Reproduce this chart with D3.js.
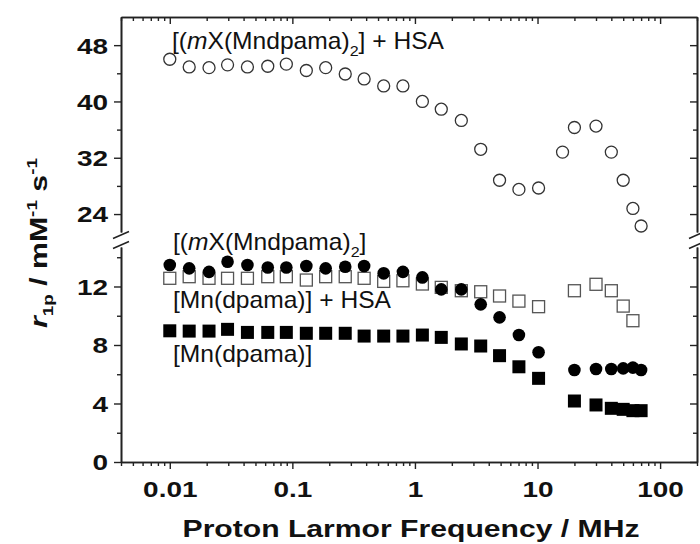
<!DOCTYPE html>
<html>
<head>
<meta charset="utf-8">
<script src="https://cdn.jsdelivr.net/npm/d3@7"></script>
<style>
  body { margin: 0; background: #fff; }
  svg { display: block; font-family: "Liberation Sans", Arial, sans-serif; }
</style>
</head>
<body>
<div id="chart"></div>
<script>
const width = 700;
const height = 544;

// Larmor frequencies (MHz)
const freqLow = [0.01, 0.0144, 0.0209, 0.0296, 0.0430, 0.0630, 0.0893, 0.130, 0.187, 0.270,
                 0.385, 0.556, 0.798, 1.15, 1.64, 2.39, 3.44, 4.90, 7.05, 10.2];
const freqHighA = [16, 20, 30, 40, 50, 60, 70];
const freqHighB = [20, 30, 40, 50, 60, 70];
const freqHighC = [20, 30, 40, 50, 60];

// relaxivities r1p (mM-1 s-1)
const dimerHSA = [46.0, 44.9, 44.8, 45.2, 44.9, 45.0, 45.3, 44.4, 44.8, 43.9, 43.2, 42.2, 42.2, 40.0,
                  38.9, 37.3, 33.2, 28.8, 27.5, 27.7, 32.8, 36.3, 36.5, 32.8, 28.8, 24.8, 22.3];
const dimer = [13.47, 13.24, 13.0, 13.69, 13.47, 13.3, 13.3, 13.4, 13.24, 13.35, 13.4, 12.9, 13.0,
               12.62, 11.8, 11.8, 10.78, 9.89, 8.68, 7.5, 6.29, 6.36, 6.36, 6.4, 6.45, 6.29];
const monoHSA = [12.56, 12.67, 12.56, 12.56, 12.56, 12.67, 12.67, 12.44, 12.67, 12.67, 12.56, 12.35,
                 12.39, 12.17, 11.94, 11.71, 11.64, 11.35, 11.0, 10.62, 11.71, 12.15, 11.71, 10.66, 9.66];
const mono = [8.97, 8.95, 8.95, 9.07, 8.86, 8.86, 8.86, 8.8, 8.8, 8.8, 8.61, 8.61, 8.61, 8.68,
              8.52, 8.07, 7.93, 7.27, 6.51, 5.72, 4.17, 3.9, 3.67, 3.6, 3.51, 3.51];

const xMajor = [0.01, 0.1, 1, 10, 100];
const xLabels = ['0.01', '0.1', '1', '10', '100'];
const yTopMajor = [24, 32, 40, 48];
const yTopMinor = [28, 36, 44];
const yBotMajor = [0, 4, 8, 12];
const yBotMinor = [2, 6, 10, 14];

const plotLeft = 121, plotRight = 697, plotTop = 17, plotBottom = 462;
const boldStretch = 1.27;
const textStretch = 1.07;
const axisColor = '#222';

const svg = d3.select('#chart')
  .append('svg')
  .attr('width', width)
  .attr('height', height);

const x = d3.scaleLog().domain([0.004, 200]).range([plotLeft, plotRight]);
const yTop = d3.scaleLinear().domain([21.45, 52]).range([232, plotTop]);
const yBot = d3.scaleLinear().domain([0, 14.7]).range([plotBottom, 247]);

const xMinor = x.ticks().filter(v => !xMajor.some(m => Math.abs(m - v) / m < 1e-6));

function styleAxis(g) {
  g.select('.domain').attr('stroke', axisColor).attr('stroke-width', 1.6);
  g.selectAll('.tick line').attr('stroke', axisColor).attr('stroke-width', 1.4);
}

// left axis (outward ticks, labels) and right mirror axis (inward)
[[yTop, yTopMajor, yTopMinor], [yBot, yBotMajor, yBotMinor]].forEach(([sc, major, minor]) => {
  svg.append('g')
     .attr('transform', `translate(${plotLeft},0)`)
     .call(d3.axisLeft(sc).tickValues(minor).tickSize(4).tickSizeOuter(0).tickFormat(''))
     .call(styleAxis);
  const g = svg.append('g')
     .attr('transform', `translate(${plotLeft},0)`)
     .call(d3.axisLeft(sc).tickValues(major).tickSize(7).tickSizeOuter(0))
     .call(styleAxis);
  g.selectAll('text')
   .attr('x', -13 / boldStretch)
   .attr('dy', '0.36em')
   .attr('transform', `scale(${boldStretch},1)`)
   .attr('fill', '#111')
   .style('font-size', '22px')
   .style('font-weight', 'bold')
   .style('font-family', '"Liberation Sans", Arial, sans-serif');
  svg.append('g')
     .attr('transform', `translate(${plotRight},0)`)
     .call(d3.axisLeft(sc).tickValues(minor).tickSize(4).tickSizeOuter(0).tickFormat(''))
     .call(styleAxis);
  svg.append('g')
     .attr('transform', `translate(${plotRight},0)`)
     .call(d3.axisLeft(sc).tickValues(major).tickSize(7).tickSizeOuter(0).tickFormat(''))
     .call(styleAxis);
});

// bottom axis
svg.append('g')
   .attr('transform', `translate(0,${plotBottom})`)
   .call(d3.axisBottom(x).tickValues(xMinor).tickSize(4).tickSizeOuter(0).tickFormat(''))
   .call(styleAxis);
const xg = svg.append('g')
   .attr('transform', `translate(0,${plotBottom})`)
   .call(d3.axisBottom(x).tickValues(xMajor).tickSize(7).tickSizeOuter(0)
         .tickFormat((d, i) => xLabels[i]))
   .call(styleAxis);
xg.selectAll('text')
  .attr('y', 35)
  .attr('dy', 0)
  .attr('transform', `scale(${boldStretch},1)`)
  .attr('fill', '#111')
  .style('font-size', '22px')
  .style('font-weight', 'bold')
  .style('font-family', '"Liberation Sans", Arial, sans-serif');

// top mirror axis (inward)
svg.append('g')
   .attr('transform', `translate(0,${plotTop})`)
   .call(d3.axisBottom(x).tickValues(xMinor).tickSize(4).tickSizeOuter(0).tickFormat(''))
   .call(styleAxis);
svg.append('g')
   .attr('transform', `translate(0,${plotTop})`)
   .call(d3.axisBottom(x).tickValues(xMajor).tickSize(7).tickSizeOuter(0).tickFormat(''))
   .call(styleAxis);

// axis break marks
[plotLeft, plotRight].forEach(xb => {
  [235, 245].forEach(yb => {
    svg.append('line')
       .attr('x1', xb - 8).attr('y1', yb + 3.5)
       .attr('x2', xb + 8).attr('y2', yb - 3.5)
       .attr('stroke', axisColor)
       .attr('stroke-width', 1.5);
  });
});

// axis titles
svg.append('g')
   .attr('transform', `translate(411,537) scale(1.31,1)`)
   .append('text')
   .attr('text-anchor', 'middle')
   .attr('fill', '#111')
   .style('font-size', '23px')
   .style('font-weight', 'bold')
   .text('Proton Larmor Frequency / MHz');

const yt = svg.append('g')
   .attr('transform', `translate(47,243) rotate(-90) scale(1.26,1)`)
   .append('text')
   .attr('text-anchor', 'middle')
   .attr('fill', '#111')
   .style('font-size', '24px')
   .style('font-weight', 'bold');
yt.append('tspan').style('font-style', 'italic').text('r');
yt.append('tspan').attr('dy', 6).style('font-size', '15px').text('1p');
yt.append('tspan').attr('dy', -6).text(' / mM');
yt.append('tspan').attr('dy', -10).style('font-size', '15px').text('-1');
yt.append('tspan').attr('dy', 10).text(' s');
yt.append('tspan').attr('dy', -10).style('font-size', '15px').text('-1');

// series labels
function dimerLabel(xp, yp, suffix) {
  const t = svg.append('g')
     .attr('transform', `translate(${xp},${yp}) scale(${textStretch},1)`)
     .append('text')
     .attr('fill', '#111')
     .style('font-size', '23px');
  t.append('tspan').text('[(');
  t.append('tspan').style('font-style', 'italic').text('m');
  t.append('tspan').text('X(Mndpama)');
  t.append('tspan').attr('dy', 7).style('font-size', '15px').text('2');
  t.append('tspan').attr('dy', -7).text(']' + suffix);
}
function plainLabel(xp, yp, txt) {
  svg.append('g')
     .attr('transform', `translate(${xp},${yp}) scale(${textStretch},1)`)
     .append('text')
     .attr('fill', '#111')
     .style('font-size', '23px')
     .text(txt);
}
dimerLabel(172, 49, ' + HSA');
dimerLabel(173, 250, '');
plainLabel(173, 308, '[Mn(dpama)] + HSA');
plainLabel(173, 362, '[Mn(dpama)]');

// data points
const series = [
  { vals: monoHSA, freq: freqLow.concat(freqHighC), y: yBot, shape: 'square', filled: false },
  { vals: mono, freq: freqLow.concat(freqHighB), y: yBot, shape: 'square', filled: true },
  { vals: dimer, freq: freqLow.concat(freqHighB), y: yBot, shape: 'circle', filled: true },
  { vals: dimerHSA, freq: freqLow.concat(freqHighA), y: yTop, shape: 'circle', filled: false }
];

series.forEach(s => {
  const pts = s.vals.map((v, i) => [s.freq[i], v]);
  const g = svg.append('g');
  if (s.shape === 'circle') {
    g.selectAll('circle')
     .data(pts)
     .enter()
     .append('circle')
     .attr('cx', d => x(d[0]))
     .attr('cy', d => s.y(d[1]))
     .attr('r', s.filled ? 6.3 : 6)
     .attr('fill', s.filled ? '#000' : 'none')
     .attr('stroke', s.filled ? 'none' : '#333')
     .attr('stroke-width', 1.3);
  } else {
    const side = s.filled ? 13 : 12;
    g.selectAll('rect')
     .data(pts)
     .enter()
     .append('rect')
     .attr('x', d => x(d[0]) - side / 2)
     .attr('y', d => s.y(d[1]) - side / 2)
     .attr('width', side)
     .attr('height', side)
     .attr('fill', s.filled ? '#000' : 'none')
     .attr('stroke', s.filled ? 'none' : '#555')
     .attr('stroke-width', 1.3);
  }
});
</script>
</body>
</html>
